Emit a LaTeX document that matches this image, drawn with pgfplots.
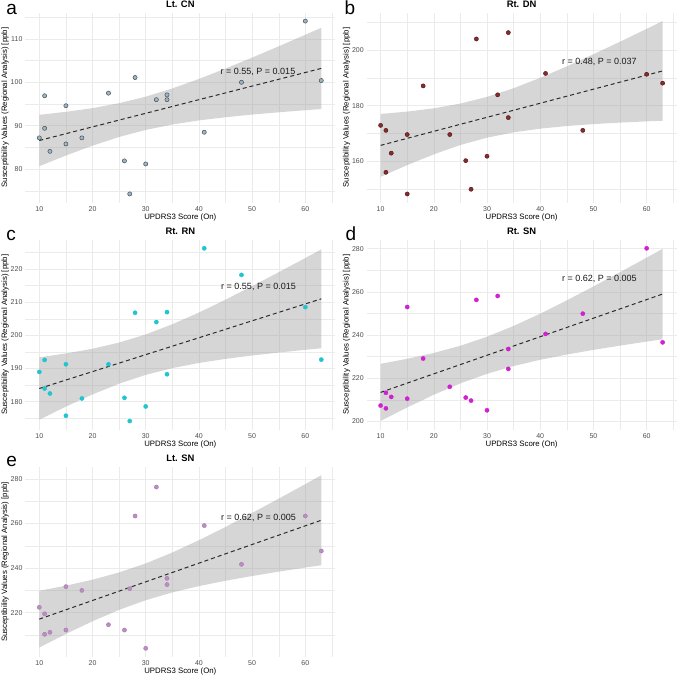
\documentclass[border=0pt]{standalone}
\usepackage{fontspec}
\setmainfont{Liberation Sans}
\usepackage{pgfplots}
\pgfplotsset{compat=1.18}
\usepackage{pgfplotstable}
\usepgfplotslibrary{fillbetween}

\definecolor{gridc}{HTML}{EBEBEB}
\definecolor{tickc}{HTML}{4D4D4D}
\definecolor{ribbonc}{HTML}{999999}
\definecolor{fitc}{HTML}{2B2B2B}
\definecolor{ptA}{HTML}{9BB5C3}
\definecolor{ptAedge}{HTML}{4A4F55}
\definecolor{ptB}{HTML}{8B2A2A}
\definecolor{ptBedge}{HTML}{4A1414}
\definecolor{ptC}{HTML}{22C4D0}
\definecolor{ptD}{HTML}{D021D0}
\definecolor{ptE}{HTML}{BD8CC4}
\definecolor{ptEedge}{HTML}{A57DAE}

% UPDRS3 score vs. regional susceptibility, one table per region
\pgfplotstableread{
x y
10 87.2
11 96.9
11 89.4
12 84.1
15 94.6
15 85.8
18 87.2
23 97.5
26 81.9
27 74.3
28 101.1
30 81.2
32 96.0
34 97.1
34 96.0
41 88.5
48 100.0
60 114.1
63 100.4
}\ptsA
\pgfplotstableread{
x y
10 172.9
11 171.1
11 156.0
12 162.9
15 169.6
15 148.2
18 187.1
23 169.6
26 160.2
27 149.9
28 204.0
30 161.8
32 183.9
34 206.3
34 175.7
41 191.6
48 171.1
60 191.3
63 188.1
}\ptsB
\pgfplotstableread{
x y
10 189.0
11 192.6
11 184.0
12 182.5
15 191.3
15 175.8
18 181.0
23 191.3
26 181.2
27 174.2
28 206.8
30 178.6
32 204.0
34 207.0
34 188.3
41 226.2
48 218.2
60 208.5
63 192.7
}\ptsC
\pgfplotstableread{
x y
10 207.3
11 213.2
11 206.0
12 211.3
15 210.5
15 253.0
18 229.1
23 216.0
26 211.0
27 209.6
28 256.3
30 205.1
32 258.1
34 233.5
34 224.3
41 240.5
48 249.9
60 280.2
63 236.6
}\ptsD
\pgfplotstableread{
x y
10 222.4
11 219.5
11 210.3
12 211.2
15 231.7
15 212.2
18 230.0
23 214.6
26 212.2
27 230.8
28 263.4
30 204.0
32 276.4
34 235.4
34 232.6
41 259.1
48 241.7
60 263.4
63 247.7
}\ptsE

% linear fit with 95% confidence band
\pgfplotstableread{
x fit lo hi
10 86.60 80.69 92.51
15 88.17 83.14 93.20
20 89.73 85.41 94.05
25 91.30 87.41 95.19
30 92.86 89.03 96.69
35 94.43 90.28 98.58
40 96.00 91.23 100.77
45 97.56 91.95 103.17
50 99.13 92.57 105.69
55 100.69 93.09 108.29
60 102.26 93.57 110.95
63 103.20 93.84 112.56
}\fitA
\pgfplotstableread{
x fit lo hi
10 165.70 154.39 177.01
15 168.23 158.60 177.86
20 170.76 162.48 179.04
25 173.29 165.83 180.75
30 175.81 168.47 183.15
35 178.34 170.39 186.29
40 180.87 171.72 190.02
45 183.40 172.66 194.14
50 185.93 173.36 198.50
55 188.46 173.90 203.02
60 190.99 174.34 207.64
63 192.50 174.57 210.43
}\fitB
\pgfplotstableread{
x fit lo hi
10 184.00 174.61 193.39
15 186.55 178.55 194.55
20 189.09 182.21 195.97
25 191.64 185.45 197.83
30 194.19 188.10 200.28
35 196.74 190.14 203.34
40 199.28 191.69 206.87
45 201.83 192.91 210.75
50 204.38 193.94 214.82
55 206.92 194.83 219.01
60 209.47 195.65 223.29
63 211.00 196.11 225.89
}\fitC
\pgfplotstableread{
x fit lo hi
10 213.40 200.16 226.64
15 217.70 206.43 228.97
20 222.00 212.31 231.69
25 226.30 217.57 235.03
30 230.61 222.02 239.20
35 234.91 225.61 244.21
40 239.21 228.51 249.91
45 243.51 230.95 256.07
50 247.81 233.10 262.52
55 252.11 235.08 269.14
60 256.42 236.95 275.89
63 259.00 238.02 279.98
}\fitD
\pgfplotstableread{
x fit lo hi
10 217.10 204.36 229.84
15 221.29 210.45 232.13
20 225.48 216.15 234.81
25 229.67 221.27 238.07
30 233.85 225.59 242.11
35 238.04 229.09 246.99
40 242.23 231.93 252.53
45 246.42 234.33 258.51
50 250.61 236.45 264.77
55 254.80 238.41 271.19
60 258.99 240.25 277.73
63 261.50 241.31 281.69
}\fitE

\tikzset{
  rlab/.style={font=\fontsize{9}{10}\selectfont, text=black!90, anchor=center, inner sep=0pt},
}
\pgfplotsset{
  panel/.style={
    scale only axis, width=310.2pt, height=190pt,
    anchor=south west,
    xmin=7.35, xmax=65.65,
    xtick={10,20,...,60}, minor xtick={15,25,...,65},
    axis line style={draw=none},
    major tick length=0pt, minor tick length=0pt,
    grid=both,
    major grid style={draw=gridc, line width=0.6pt},
    minor grid style={draw=gridc, line width=0.3pt},
    tick label style={font=\fontsize{7}{8}\selectfont, text=tickc},
    yticklabel style={inner sep=0pt, xshift=-2.6pt, anchor=east},
    xticklabel style={inner sep=0pt, yshift=-3.8pt, anchor=north},
    xlabel={UPDRS3 Score (On)},
    ylabel={Susceptibility Values (Regional Analysis) [ppb]},
    label style={font=\fontsize{7.8}{9}\selectfont},
    xlabel style={at={(axis description cs:0.5,-0.077)}, anchor=center},
    ylabel style={at={(axis description cs:-0.0645,0.5)}, anchor=center},
    every axis title shift=0pt,
    title style={font=\bfseries\fontsize{9.4}{11}\selectfont,
      at={(axis description cs:0.5,1.029)}, anchor=base, inner sep=0pt},
    /pgf/number format/assume math mode=true,
    clip=false,
  },
  band/.style={draw=none, forget plot},
  bandfill/.style={fill=ribbonc, fill opacity=0.4, draw=none},
  fitline/.style={draw=fitc, line width=1pt, dash pattern=on 4pt off 3pt, no marks},
  pts/.style={only marks, mark=*, mark size=2.1pt},
}

\begin{document}
\begin{tikzpicture}

% a: Lt. CN
\begin{axis}[panel, at={(25.2pt,474.4pt)}, title={Lt. CN},
  ymin=72.3, ymax=116.05, ytick={80,90,100,110}, minor ytick={75,85,...,115}]
  \addplot[band, name path=aU] table[x=x, y=hi] {\fitA};
  \addplot[band, name path=aL] table[x=x, y=lo] {\fitA};
  \addplot[bandfill] fill between[of=aU and aL];
  \addplot[fitline] table[x=x, y=fit] {\fitA};
  \addplot[pts, mark options={fill=ptA, draw=ptAedge, line width=0.5pt}] table {\ptsA};
  \node[rlab] at (axis cs:51.1,102.5) {r = 0.55, P = 0.015};
\end{axis}

% b: Rt. DN
\begin{axis}[panel, at={(366.5pt,474.4pt)}, title={Rt. DN},
  ymin=145.1, ymax=213.5, ytick={160,180,200}, minor ytick={150,170,...,210}]
  \addplot[band, name path=bU] table[x=x, y=hi] {\fitB};
  \addplot[band, name path=bL] table[x=x, y=lo] {\fitB};
  \addplot[bandfill] fill between[of=bU and bL];
  \addplot[fitline] table[x=x, y=fit] {\fitB};
  \addplot[pts, mark options={fill=ptB, draw=ptBedge, line width=0.4pt}] table {\ptsB};
  \node[rlab] at (axis cs:51.1,195.8) {r = 0.48, P = 0.037};
\end{axis}

% c: Rt. RN
\begin{axis}[panel, at={(25.2pt,247.3pt)}, title={Rt. RN},
  ymin=171.6, ymax=228.8, ytick={180,190,...,220}, minor ytick={175,185,...,225}]
  \addplot[band, name path=cU] table[x=x, y=hi] {\fitC};
  \addplot[band, name path=cL] table[x=x, y=lo] {\fitC};
  \addplot[bandfill] fill between[of=cU and cL];
  \addplot[fitline] table[x=x, y=fit] {\fitC};
  \addplot[pts, mark options={fill=ptC, draw=ptC}] table {\ptsC};
  \node[rlab] at (axis cs:51.2,214.7) {r = 0.55, P = 0.015};
\end{axis}

% d: Rt. SN
\begin{axis}[panel, at={(366.5pt,247.3pt)}, title={Rt. SN},
  ymin=196.1, ymax=284.2, ytick={200,220,...,280}, minor ytick={210,230,...,270}]
  \addplot[band, name path=dU] table[x=x, y=hi] {\fitD};
  \addplot[band, name path=dL] table[x=x, y=lo] {\fitD};
  \addplot[bandfill] fill between[of=dU and dL];
  \addplot[fitline] table[x=x, y=fit] {\fitD};
  \addplot[pts, mark options={fill=ptD, draw=ptD}] table {\ptsD};
  \node[rlab] at (axis cs:51.1,266.2) {r = 0.62, P = 0.005};
\end{axis}

% e: Lt. SN
\begin{axis}[panel, at={(25.2pt,20pt)}, title={Lt. SN},
  ymin=200.1, ymax=285.4, ytick={220,240,260,280}, minor ytick={210,230,...,270}]
  \addplot[band, name path=eU] table[x=x, y=hi] {\fitE};
  \addplot[band, name path=eL] table[x=x, y=lo] {\fitE};
  \addplot[bandfill] fill between[of=eU and eL];
  \addplot[fitline] table[x=x, y=fit] {\fitE};
  \addplot[pts, mark options={fill=ptE, draw=ptEedge}] table {\ptsE};
  \node[rlab] at (axis cs:51.2,262.4) {r = 0.62, P = 0.005};
\end{axis}

% panel letters
\begin{scope}[every node/.style={anchor=base west, inner sep=0pt, font=\fontsize{19}{20}\selectfont}]
  \node at (6.2pt,662pt) {a};
  \node at (344.5pt,662pt) {b};
  \node at (6.2pt,436pt) {c};
  \node at (345.5pt,436pt) {d};
  \node at (6.2pt,210.3pt) {e};
\end{scope}

% page frame
\pgfresetboundingbox
\path (0,0) rectangle (677pt,677pt);
\end{tikzpicture}
\end{document}
